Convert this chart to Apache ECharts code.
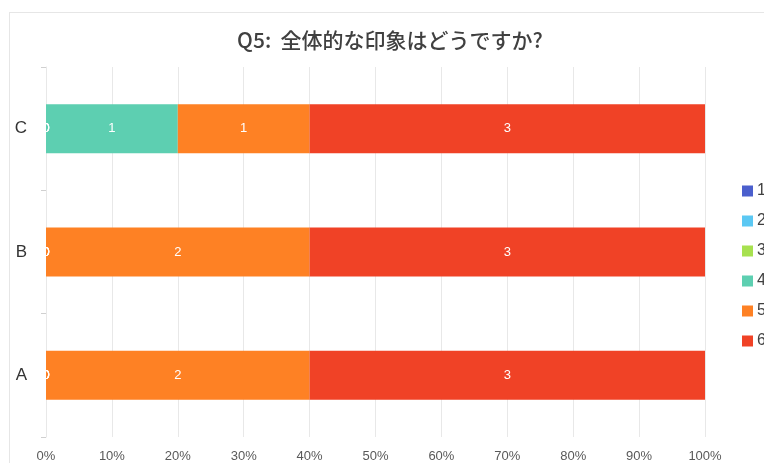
<!DOCTYPE html>
<html>
<head>
<meta charset="utf-8">
<script src="https://cdn.jsdelivr.net/npm/echarts@6/dist/echarts.min.js"></script>
<style>
  html, body { margin: 0; padding: 0; background: #fff; }
  #frame {
    position: absolute; left: 9px; top: 12px; width: 800px; height: 500px;
    border: 1px solid #e6e6e6; box-sizing: border-box;
  }
  #chart { position: absolute; left: 0; top: 0; width: 764px; height: 463px; }
</style>
</head>
<body>
<div id="frame"></div>
<div id="chart"></div>
<script>
// カテゴリ（下から A, B, C）
const categories = ['A', 'B', 'C']
const seriesNames = ['1', '2', '3', '4', '5', '6']
// 各回答の件数
const count1 = [0, 0, 0]
const count2 = [0, 0, 0]
const count3 = [0, 0, 0]
const count4 = [0, 0, 1]
const count5 = [2, 2, 1]
const count6 = [3, 3, 3]
const xTicks = ['0%', '10%', '20%', '30%', '40%', '50%', '60%', '70%', '80%', '90%', '100%']
const colors = ['#4b5fcd', '#5bc8f3', '#a7e14f', '#5dcfb1', '#fe8124', '#f04226']

const counts = [count1, count2, count3, count4, count5, count6]
const totals = categories.map((c, i) => counts.reduce((s, arr) => s + arr[i], 0))

const chart = echarts.init(document.getElementById('chart'))
const option = {
  animation: false,
  color: colors,
  title: {
    text: 'Q5:  全体的な印象はどうですか?',
    left: 385,
    top: 25,
    textAlign: 'center',
    textStyle: {
      fontSize: 21,
      fontWeight: 500,
      color: '#404040',
      fontFamily: '"Noto Sans CJK JP", sans-serif'
    }
  },
  legend: {
    orient: 'vertical',
    left: 737,
    top: 178,
    itemWidth: 11,
    itemHeight: 11,
    itemGap: 14,
    icon: 'rect',
    data: seriesNames,
    textStyle: { fontSize: 16, color: '#404040', padding: [0, 0, 0, -1] }
  },
  grid: {
    left: 46,
    right: 59,
    top: 67,
    bottom: 26
  },
  xAxis: {
    type: 'value',
    min: 0,
    max: 100,
    interval: 10,
    axisLine: { show: false },
    axisTick: { show: false },
    splitLine: { lineStyle: { color: '#e8e8e8' } },
    axisLabel: {
      margin: 13,
      fontSize: 13,
      color: '#595959',
      formatter: function (v) { return xTicks[Math.round(v / 10)] }
    }
  },
  yAxis: {
    type: 'category',
    data: categories,
    axisLine: { show: true, lineStyle: { color: '#e8e8e8' } },
    axisTick: { show: true, length: 5, lineStyle: { color: '#d0d0d0' } },
    axisLabel: { margin: 19, fontSize: 17, color: '#333' }
  },
  series: seriesNames.map((name, k) => ({
    name: name,
    type: 'bar',
    stack: 'total',
    barWidth: 49,
    data: counts[k].map((v, i) => ({ value: v / totals[i] * 100, raw: v })),
    label: {
      show: true,
      position: 'inside',
      color: '#fff',
      fontSize: 13,
      formatter: function (p) { return p.data.raw }
    }
  }))
}
chart.setOption(option)
</script>
</body>
</html>
